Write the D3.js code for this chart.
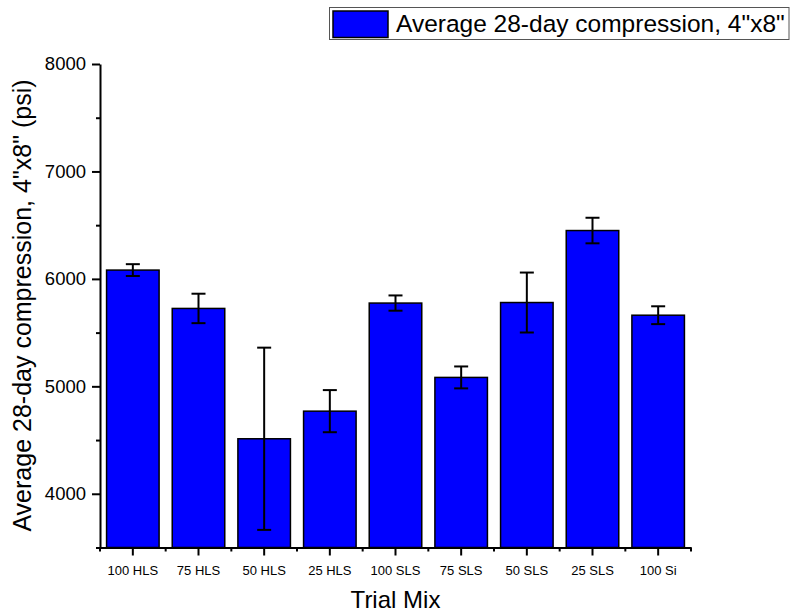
<!DOCTYPE html>
<html>
<head>
<meta charset="utf-8">
<script src="https://cdn.jsdelivr.net/npm/d3@7"></script>
<style>
  html, body { margin: 0; padding: 0; background: #fff; }
  svg text { font-family: Arial, "Liberation Sans", sans-serif; fill: #000; }
</style>
</head>
<body>
<svg id="chart" width="791" height="613"></svg>
<script>
// Mix designs and their mean 28-day compressive strength (psi) with spread
const mixes = ["100 HLS", "75 HLS", "50 HLS", "25 HLS", "100 SLS", "75 SLS", "50 SLS", "25 SLS", "100 Si"];
const meanStrength = [6082, 5725, 4512, 4769, 5775, 5083, 5780, 6450, 5662];
const strengthError = [55, 137, 848, 196, 71, 102, 279, 119, 83];
const yMajorTicks = [4000, 5000, 6000, 7000, 8000];
const yMinorTicks = [3500, 4500, 5500, 6500, 7500];
const legendLabel = "Average 28-day compression, 4\"x8\"";
const xTitle = "Trial Mix";
const yTitle = "Average 28-day compression, 4\"x8\" (psi)";

(function draw() {
  const svg = d3.select("#chart");
  const plotLeft = 100, plotRight = 691, plotTop = 64, plotBottom = 547.5;

  const x = d3.scaleBand().domain(mixes).range([plotLeft, plotRight]).paddingInner(0.2).paddingOuter(0.1);
  const y = d3.scaleLinear().domain([3500, 8000]).range([plotBottom, plotTop]);

  const rows = mixes.map((m, i) => ({ mix: m, mean: meanStrength[i], err: strengthError[i] }));

  // Bars
  svg.append("g").selectAll("rect").data(rows).join("rect")
    .attr("x", d => x(d.mix))
    .attr("y", d => y(d.mean))
    .attr("width", x.bandwidth())
    .attr("height", d => plotBottom - y(d.mean))
    .attr("fill", "#0000ff")
    .attr("stroke", "#000")
    .attr("stroke-width", 1.5);

  // Error bars
  const eb = svg.append("g").attr("stroke", "#000").attr("stroke-width", 2);
  const cap = 7;
  rows.forEach(d => {
    const cx = x(d.mix) + x.bandwidth() / 2;
    eb.append("line").attr("x1", cx).attr("x2", cx).attr("y1", y(d.mean + d.err)).attr("y2", y(d.mean - d.err));
    eb.append("line").attr("x1", cx - cap).attr("x2", cx + cap).attr("y1", y(d.mean + d.err)).attr("y2", y(d.mean + d.err));
    eb.append("line").attr("x1", cx - cap).attr("x2", cx + cap).attr("y1", y(d.mean - d.err)).attr("y2", y(d.mean - d.err));
  });

  // Y axis: major labelled ticks plus unlabelled minor ticks
  const yAxisG = svg.append("g").attr("transform", `translate(${plotLeft},0)`)
    .call(d3.axisLeft(y).tickValues(yMajorTicks).tickSize(8).tickSizeOuter(0).tickPadding(6).tickFormat(d3.format("d")));
  yAxisG.select(".domain").attr("stroke-width", 2);
  yAxisG.selectAll(".tick line").attr("stroke-width", 2);
  yAxisG.selectAll(".tick text").attr("font-size", 18.5);
  svg.append("g").attr("transform", `translate(${plotLeft},0)`)
    .call(d3.axisLeft(y).tickValues(yMinorTicks).tickSize(4).tickSizeOuter(0).tickFormat(""))
    .call(g => g.select(".domain").remove())
    .selectAll(".tick line").attr("stroke-width", 2);

  // X axis: ticks at category centres, minor ticks at category boundaries
  const xAxisG = svg.append("g").attr("transform", `translate(0,${plotBottom})`)
    .call(d3.axisBottom(x).tickSize(8).tickSizeOuter(0).tickPadding(10));
  xAxisG.select(".domain").attr("stroke-width", 2);
  xAxisG.selectAll(".tick line").attr("stroke-width", 2);
  xAxisG.selectAll(".tick text").attr("font-size", 13).attr("fill", "#222");
  const boundaries = d3.range(mixes.length + 1).map(i => plotLeft + i * x.step());
  svg.append("g").attr("stroke", "#000").attr("stroke-width", 2)
    .selectAll("line").data(boundaries).join("line")
    .attr("x1", d => d).attr("x2", d => d)
    .attr("y1", plotBottom).attr("y2", plotBottom + 4);

  // Axis titles
  svg.append("text")
    .attr("x", (plotLeft + plotRight) / 2).attr("y", 608)
    .attr("text-anchor", "middle").attr("font-size", 24)
    .text(xTitle);
  svg.append("text")
    .attr("transform", `translate(31,${(79 + 532) / 2}) rotate(-90)`)
    .attr("text-anchor", "middle").attr("font-size", 25)
    .text(yTitle);

  // Legend
  const lg = svg.append("g");
  lg.append("rect").attr("x", 329.5).attr("y", 7.5).attr("width", 459.5).attr("height", 32)
    .attr("fill", "#fff").attr("stroke", "#555").attr("stroke-width", 1);
  lg.append("rect").attr("x", 333).attr("y", 11).attr("width", 55).attr("height", 26.5)
    .attr("fill", "#0000ff").attr("stroke", "#000").attr("stroke-width", 1.5);
  lg.append("text").attr("x", 396).attr("y", 32).attr("font-size", 24.5).text(legendLabel);
})();
</script>
</body>
</html>
